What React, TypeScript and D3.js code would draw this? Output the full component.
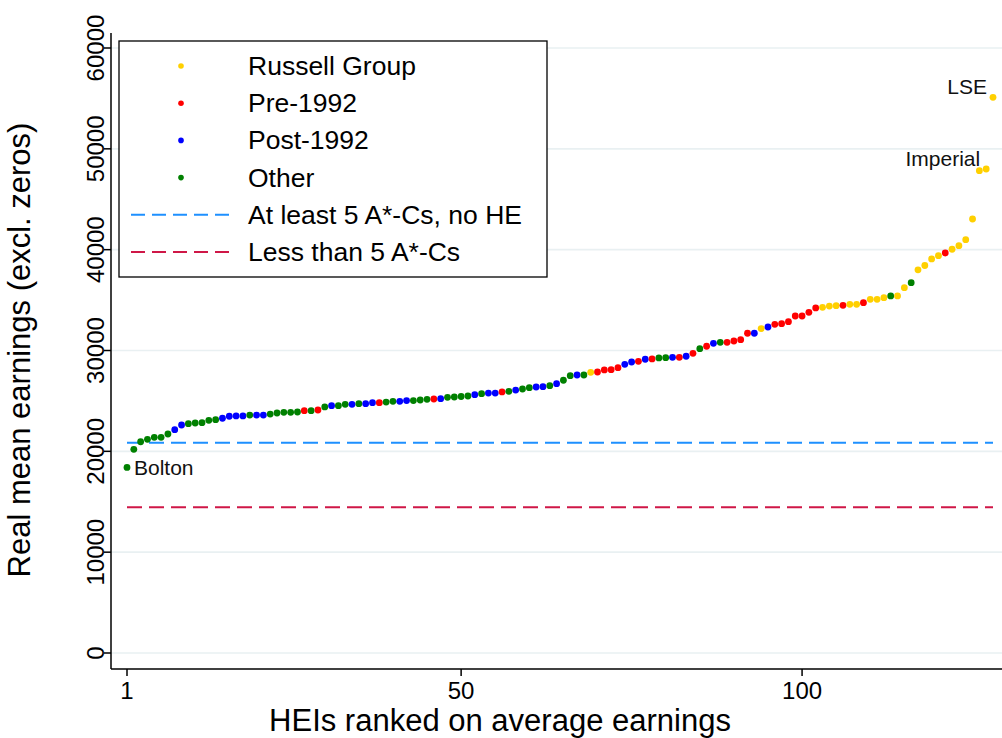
import React from "react";
import * as d3 from "d3";

// Earnings by HEI rank (1..128), group codes: R = Russell Group, P = Pre-1992, B = Post-1992, O = Other
const earnings: number[] = [
  18400, 20200, 20950, 21190, 21390, 21390, 21720, 22150, 22610, 22740,
  22810, 22840, 23080, 23140, 23280, 23480, 23510, 23510, 23600, 23600,
  23600, 23700, 23800, 23870, 23870, 23900, 24030, 24030, 24100, 24400,
  24530, 24530, 24660, 24660, 24730, 24730, 24830, 24830, 24890, 24960,
  24960, 25030, 25030, 25090, 25160, 25190, 25220, 25360, 25390, 25440,
  25490, 25620, 25720, 25780, 25780, 25890, 25950, 26080, 26180, 26310,
  26380, 26410, 26510, 26710, 27050, 27500, 27570, 27570, 27840, 27870,
  28070, 28100, 28300, 28630, 28860, 28930, 29130, 29160, 29260, 29290,
  29320, 29320, 29430, 29720, 30180, 30420, 30710, 30810, 30810, 30940,
  31070, 31710, 31710, 32170, 32330, 32600, 32660, 32860, 33420, 33420,
  33790, 34220, 34280, 34410, 34450, 34480, 34580, 34580, 34740, 35080,
  35080, 35240, 35410, 35410, 36230, 36730, 38000, 38430, 39080, 39400,
  39670, 40040, 40400, 40990, 43040, 47830, 48000, 55110,
];

const groups: string[] = [
  "O", "O", "O", "O", "O", "O", "O", "B", "B", "O",
  "O", "O", "O", "O", "B", "B", "B", "B", "O", "B",
  "B", "O", "O", "O", "O", "O", "P", "O", "P", "O",
  "B", "O", "O", "B", "O", "B", "B", "P", "O", "O",
  "B", "B", "O", "O", "O", "P", "B", "O", "O", "O",
  "O", "B", "O", "B", "B", "P", "O", "B", "O", "O",
  "B", "B", "O", "B", "O", "O", "B", "O", "R", "P",
  "P", "P", "P", "B", "B", "P", "B", "P", "O", "O",
  "B", "P", "B", "P", "O", "P", "B", "O", "P", "P",
  "P", "P", "B", "R", "B", "P", "P", "P", "P", "P",
  "P", "P", "R", "R", "R", "P", "R", "R", "P", "R",
  "R", "R", "O", "R", "R", "O", "R", "R", "R", "R",
  "P", "R", "R", "R", "R", "R", "R", "R",
];

const groupKeys = ["R", "P", "B", "O"];
const groupNames = ["Russell Group", "Pre-1992", "Post-1992", "Other"];
const groupColors = ["#ffd000", "#ff0000", "#0000ff", "#008000"];

const refNames = ["At least 5 A*-Cs, no HE", "Less than 5 A*-Cs"];
const refValues = [20850, 14450];
const refColors = ["#1e90ff", "#cf1747"];

const yTicks = [0, 10000, 20000, 30000, 40000, 50000, 60000];
const xTicks = [1, 50, 100];

const labelled: { rank: number; text: string; side: "right" | "upleft" }[] = [
  { rank: 1, text: "Bolton", side: "right" },
  { rank: 127, text: "Imperial", side: "upleft" },
  { rank: 128, text: "LSE", side: "upleft" },
];

const FONT = "'Liberation Sans', Arial, Helvetica, sans-serif";

export default function App() {
  const W = 1002;
  const H = 738;
  const axisX = 111;
  const axisY = 669;
  const x = d3.scaleLinear().domain([1, 128]).range([127, 993]);
  const y = d3.scaleLinear().domain([0, 60000]).range([653, 48]);
  const colorOf = d3.scaleOrdinal<string, string>().domain(groupKeys).range(groupColors);

  const data = earnings.map((v, i) => ({ rank: i + 1, v, g: groups[i] }));
  const line = d3.line<[number, number]>().x((d) => x(d[0])).y((d) => y(d[1]));

  const legendRows = [
    ...groupNames.map((n, i) => ({ kind: "dot", name: n, color: groupColors[i] })),
    ...refNames.map((n, i) => ({ kind: "line", name: n, color: refColors[i] })),
  ];
  const rowY = d3.scaleLinear().domain([0, 5]).range([66, 252]);

  return (
    <svg
      width={W}
      height={H}
      style={{ position: "absolute", left: 0, top: 0, background: "#fff" }}
      fontFamily={FONT}
    >
      <rect x={0} y={0} width={W} height={H} fill="#fff" />
      {/* gridlines */}
      {yTicks.map((t) => (
        <line key={"g" + t} x1={axisX} x2={W} y1={y(t)} y2={y(t)} stroke="#e9f0f2" strokeWidth={1.6} />
      ))}
      {/* reference lines */}
      {refValues.map((v, i) => (
        <path
          key={"ref" + i}
          d={line([[1, v], [128, v]]) || ""}
          stroke={refColors[i]}
          strokeWidth={2}
          strokeDasharray="15,7"
          fill="none"
        />
      ))}
      {/* points */}
      {data.map((d) => (
        <circle key={d.rank} cx={x(d.rank)} cy={y(d.v)} r={3.4} fill={colorOf(d.g)} />
      ))}
      {/* marker labels */}
      {labelled.map((l) => {
        const v = earnings[l.rank - 1];
        const px = x(l.rank);
        const py = y(v);
        return l.side === "right" ? (
          <text key={l.text} x={px + 7} y={py} dominantBaseline="central" fontSize={21} fill="#111">
            {l.text}
          </text>
        ) : (
          <text key={l.text} x={px - 6} y={py - 11} textAnchor="end" dominantBaseline="central" fontSize={21} fill="#111">
            {l.text}
          </text>
        );
      })}
      {/* axes */}
      <line x1={axisX} x2={axisX} y1={33} y2={axisY} stroke="#000" strokeWidth={1.5} />
      <line x1={axisX} x2={W} y1={axisY} y2={axisY} stroke="#000" strokeWidth={1.5} />
      {yTicks.map((t) => (
        <g key={"yt" + t}>
          <line x1={axisX - 7} x2={axisX} y1={y(t)} y2={y(t)} stroke="#000" strokeWidth={1.5} />
          <text
            transform={`translate(${104},${y(t)}) rotate(-90)`}
            textAnchor="middle"
            fontSize={24}
            fill="#000"
          >
            {t}
          </text>
        </g>
      ))}
      {xTicks.map((t) => (
        <g key={"xt" + t}>
          <line x1={x(t)} x2={x(t)} y1={axisY} y2={axisY + 7} stroke="#000" strokeWidth={1.5} />
          <text x={x(t)} y={699} textAnchor="middle" fontSize={24} fill="#000">
            {t}
          </text>
        </g>
      ))}
      <text x={500} y={731} textAnchor="middle" fontSize={31} fill="#000">
        HEIs ranked on average earnings
      </text>
      <text transform={`translate(${30},${350}) rotate(-90)`} textAnchor="middle" fontSize={31} fill="#000">
        Real mean earnings (excl. zeros)
      </text>
      {/* legend */}
      <rect x={119} y={41} width={428} height={236} fill="#fff" stroke="#000" strokeWidth={1.3} />
      {legendRows.map((r, i) => (
        <g key={"lg" + i}>
          {r.kind === "dot" ? (
            <circle cx={181} cy={rowY(i)} r={2.8} fill={r.color} />
          ) : (
            <line x1={131} x2={232} y1={rowY(i)} y2={rowY(i)} stroke={r.color} strokeWidth={2} strokeDasharray="14,7" />
          )}
          <text x={248} y={rowY(i)} dominantBaseline="central" fontSize={26.5} fill="#000">
            {r.name}
          </text>
        </g>
      ))}
    </svg>
  );
}
